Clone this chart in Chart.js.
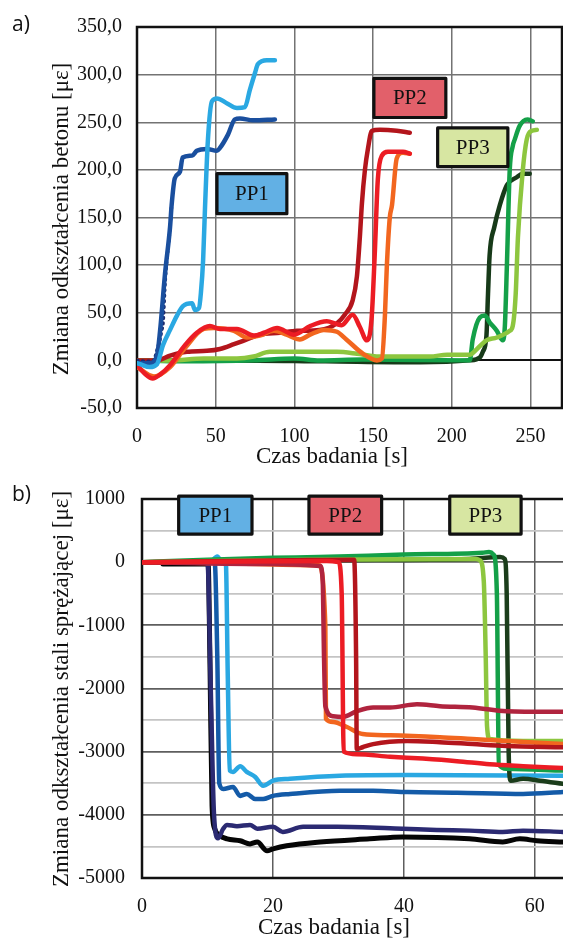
<!DOCTYPE html>
<html><head><meta charset="utf-8">
<script src="https://cdn.jsdelivr.net/npm/chart.js@4.4.0/dist/chart.umd.min.js"></script>
<style>
html,body{margin:0;padding:0;background:#fff;}
#wrap{position:relative;width:563px;height:941px;overflow:hidden;background:#fff;}
canvas{position:absolute;left:0;}
#ca{top:0;width:563px;height:470px;}
#cb{top:470px;width:563px;height:471px;}
</style></head><body>
<div id="wrap"><canvas id="ca" width="563" height="470"></canvas><canvas id="cb" width="563" height="471"></canvas></div>
<script>
// ===== Chart a) : concrete strain =====
const xTicksA = [0, 50, 100, 150, 200, 250];
const xLabelsA = ['0', '50', '100', '150', '200', '250'];
const yTicksA = [-50, 0, 50, 100, 150, 200, 250, 300, 350];
const yLabelsA = ['-50,0', '0,0', '50,0', '100,0', '150,0', '200,0', '250,0', '300,0', '350,0'];

const tA_pp1_dark = [0, 8, 12.7, 14.6, 17.8, 21, 22, 24, 27.3, 29, 35, 38, 44.4, 50.8, 52.7, 57.8, 62.2, 65.4, 73.7, 87.6];
const vA_pp1_dark = [-3, -3, 5, 30, 91, 140, 163, 191, 198, 213, 215, 220, 222, 220, 223, 237, 253, 254, 252, 253];
const tA_pp1_navy = [0, 6.3, 10, 13.3, 14.6, 15.9, 16.5, 18, 21, 22];
const vA_pp1_navy = [0, -1, -1, 14, 22, 33, 38, 85, 140, 163];
const tA_pp1_light = [0, 2, 8, 12.7, 16.5, 21, 25.4, 29.2, 35, 36.8, 39.4, 40.6, 42, 43.2, 45, 47.6, 50.8, 57, 63.5, 68.6, 71.7, 75, 76.8, 82.5, 87.6];
const vA_pp1_light = [-3, -4, -7, -4, 16, 32, 47, 57, 60, 53, 55, 71, 105, 160, 230, 272, 275, 270, 265, 266, 284, 302, 311, 315, 315];

const tA_pp2_dark = [0, 12.7, 21, 31.7, 44.4, 52.7, 61.6, 69.8, 78, 90.8, 101.6, 116, 127, 132, 137, 139.7, 141.6, 142.9, 144.8, 146.7, 149.2, 154.3, 165, 173.3];
const vA_pp2_dark = [0, 0, 5, 9, 10, 12, 17, 22, 27, 29, 31, 32, 39, 48, 63, 88, 130, 165, 200, 222, 241, 242, 241, 239];
const tA_pp2_red = [0, 5, 10, 14.6, 21, 30.5, 38, 46.3, 52.7, 63.5, 74.3, 80.6, 89, 99.7, 110, 120.6, 127, 130, 137, 141.6, 146, 149, 151, 153, 155.6, 159.4, 169, 173.3];
const vA_pp2_red = [-5, -14, -19, -15, -5, 16, 29, 36, 33, 33, 26, 29, 34, 27, 36, 41, 38, 37, 48, 35, 21, 43, 110, 190, 215, 219, 219, 217];
const tA_pp2_orange = [0, 10.8, 21, 30.5, 42.5, 48.9, 61.6, 69.8, 78, 87, 95, 103.5, 110, 118.7, 127, 133, 143.5, 152.4, 155.6, 157.5, 158.7, 160.6, 162, 165, 169, 173.3];
const vA_pp2_orange = [-7, -17, -7, 13, 33, 34, 31, 24, 26, 31, 27, 22, 27, 32, 30, 22, 7, 0, 2, 47, 98, 150, 163, 212, 218, 217];

const tA_pp3_green = [0, 30, 74, 100, 116, 143.5, 211.4, 213.3, 217.8, 221, 224, 228.6, 232.4, 233.7, 235, 236.8, 238.7, 240, 243, 248, 251.4];
const vA_pp3_green = [0, -1, 0, 2, 0, 1, 0, 22, 45, 47, 40, 31, 21, 36, 100, 200, 225, 232, 246, 253, 251];
const tA_pp3_light = [0, 21, 42.5, 63.5, 74, 84.4, 99.7, 127, 139.7, 148, 154, 186, 197, 211.4, 216, 222, 228.6, 236.8, 238.7, 240.6, 242, 245, 247.6, 250.8, 254];
const vA_pp3_light = [0, 0, 2, 2, 4, 9, 9, 9, 7, 5, 4, 4, 6, 6, 12, 21, 24, 31, 36, 70, 129, 198, 232, 241, 242];
const tA_pp3_dark = [0, 60, 120, 180, 211.4, 217.8, 219.7, 222, 223, 224, 227, 230.5, 235, 241, 245, 249.5];
const vA_pp3_dark = [0, 0, -1, -2, 0, 3, 9, 26, 70, 110, 140, 163, 184, 192, 196, 196];

// ===== Chart b) : prestressing steel strain =====
const xTicksB = [0, 20, 40, 60];
const xLabelsB = ['0', '20', '40', '60'];
const yTicksB = [-5000, -4500, -4000, -3500, -3000, -2500, -2000, -1500, -1000, -500, 0, 500, 1000];
const yLabelsB = ['-5000', '', '-4000', '', '-3000', '', '-2000', '', '-1000', '', '0', '', '1000'];

const tB_pp1_black = [3.2, 10.1, 10.4, 10.7, 11.1, 11.9, 13, 15, 16.5, 17.6, 19.1, 20, 22.1, 27.2, 34.8, 39.8, 50, 55.1, 57.7, 60.3, 64.3];
const vB_pp1_black = [-30, -30, -1740, -3860, -4220, -4330, -4380, -4410, -4460, -4430, -4570, -4540, -4490, -4430, -4380, -4350, -4380, -4430, -4380, -4410, -4430];
const tB_pp1_navy = [0, 10, 10.5, 11, 11.6, 12.4, 13, 14.5, 16.5, 17.6, 20, 21.5, 24.6, 29.8, 39.8, 45, 50, 55.1, 58.2, 64.3];
const vB_pp1_navy = [0, 0, -2000, -4000, -4370, -4220, -4160, -4180, -4160, -4220, -4190, -4270, -4190, -4190, -4220, -4240, -4250, -4270, -4250, -4270];
const tB_pp1_blue = [0, 11.1, 11.5, 11.8, 12.4, 13.9, 15, 16, 17.3, 18.5, 20, 22.6, 30.2, 35.3, 40.5, 48.1, 58.2, 64.3];
const vB_pp1_blue = [0, 0, -1500, -3500, -3590, -3560, -3700, -3670, -3750, -3750, -3700, -3670, -3620, -3620, -3640, -3650, -3670, -3640];
const tB_pp1_light = [0, 10.4, 11.5, 12.2, 12.8, 13.1, 13.4, 13.9, 15, 16, 17.3, 18.5, 20, 22.6, 30.2, 40.5, 64.3];
const vB_pp1_light = [0, 0, 90, 0, 0, -1800, -3300, -3320, -3230, -3320, -3400, -3540, -3460, -3430, -3380, -3370, -3380];

const tB_pp2_crimson = [0, 20, 27.2, 27.6, 27.8, 28, 29.2, 30.7, 32.8, 35.3, 37.9, 42, 45.5, 50.5, 55.7, 64.3];
const vB_pp2_crimson = [0, -30, -60, -300, -1500, -2280, -2440, -2450, -2360, -2300, -2300, -2250, -2280, -2300, -2360, -2370];
const tB_pp2_orange = [0, 27, 28, 28.1, 29.2, 31.3, 33.7, 37.9, 45.5, 50.5, 55.7, 64.3];
const vB_pp2_orange = [0, -50, -1000, -2480, -2530, -2610, -2720, -2740, -2770, -2800, -2830, -2880];
const tB_pp2_red = [0, 28.2, 30, 30.5, 30.8, 32.8, 37.9, 42.9, 48.1, 53.1, 58.2, 64.3];
const vB_pp2_red = [0, 20, 0, -500, -3000, -3040, -3080, -3110, -3150, -3200, -3230, -3260];
const tB_pp2_dark = [0, 22.6, 32.4, 32.7, 32.8, 33.7, 35.3, 40.5, 45.5, 50.5, 55.7, 64.3];
const vB_pp2_dark = [0, 30, 40, -1500, -2960, -2930, -2880, -2830, -2850, -2880, -2910, -2930];

const tB_pp3_green = [0, 10, 20, 27, 40, 52, 53, 53.7, 54.2, 54.5, 55.7, 64.3];
const vB_pp3_green = [0, 40, 70, 80, 120, 150, 160, 120, -500, -3200, -3270, -3300];
const tB_pp3_light = [0, 25, 51, 51.6, 52.2, 52.5, 52.7, 53.1, 58.2, 64.3];
const vB_pp3_light = [0, 40, 50, 30, -300, -1500, -2600, -2800, -2830, -2830];
const tB_pp3_dark = [0, 30, 50, 54.7, 55.4, 55.7, 56, 56.3, 58.2, 60.8, 64.3];
const vB_pp3_dark = [0, 30, 50, 80, 50, -500, -3000, -3460, -3430, -3460, -3510];

// ===== helpers =====
function pts(t, v) { return t.map((x, i) => ({ x: x, y: v[i] })); }
function ds(t, v, color, width, extra) {
  return Object.assign({
    data: pts(t, v), borderColor: color, backgroundColor: color, borderWidth: width,
    pointRadius: 0, pointHoverRadius: 0, fill: false, cubicInterpolationMode: 'monotone',
    borderJoinStyle: 'round', borderCapStyle: 'round'
  }, extra || {});
}

const SERIF = '"Liberation Serif", "Times New Roman", serif';
Chart.defaults.font.family = SERIF;

const framePlugin = {
  id: 'frame',
  beforeDatasetsDraw(chart, args, o) {
    const ctx = chart.ctx, a = chart.chartArea;
    ctx.save();
    ctx.strokeStyle = '#111'; ctx.lineWidth = 2.5; ctx.lineCap = 'square';
    ctx.beginPath();
    ctx.moveTo(a.left, a.bottom); ctx.lineTo(a.left, a.top); ctx.lineTo(a.right, a.top);
    if (o.right) ctx.lineTo(a.right, a.bottom);
    ctx.moveTo(a.left, a.bottom); ctx.lineTo(a.right, a.bottom);
    ctx.stroke();
    ctx.restore();
  },
  afterDraw(chart, args, o) {
    const ctx = chart.ctx, sx = chart.scales.x, sy = chart.scales.y;
    ctx.save();
    (o.boxes || []).forEach(b => {
      const x0 = sx.getPixelForValue(b.x0), x1 = sx.getPixelForValue(b.x1);
      const y0 = sy.getPixelForValue(b.y0), y1 = sy.getPixelForValue(b.y1);
      ctx.fillStyle = b.fill;
      ctx.fillRect(x0, y0, x1 - x0, y1 - y0);
      ctx.strokeStyle = '#111'; ctx.lineWidth = 3.2; ctx.lineJoin = 'round';
      ctx.strokeRect(x0, y0, x1 - x0, y1 - y0);
      ctx.fillStyle = '#111';
      ctx.font = '21px ' + SERIF;
      ctx.textAlign = 'center'; ctx.textBaseline = 'middle';
      ctx.fillText(b.text, (x0 + x1) / 2, (y0 + y1) / 2 + 1);
    });
    ctx.fillStyle = '#111';
    ctx.font = '23px ' + SERIF;
    ctx.textAlign = 'center'; ctx.textBaseline = 'middle';
    ctx.fillText(o.xTitle, o.xTitlePos[0], o.xTitlePos[1]);
    ctx.save();
    ctx.translate(o.yTitlePos[0], o.yTitlePos[1]);
    ctx.rotate(-Math.PI / 2);
    ctx.fillText(o.yTitle, 0, 0);
    ctx.restore();
    ctx.font = '21px "Open Sans", "DejaVu Sans", sans-serif';
    ctx.textAlign = 'left';
    ctx.fillText(o.letter, 12, 25);
    ctx.restore();
  }
};

function tickFont() { return { family: SERIF, size: 20 }; }

// ===== chart a =====
new Chart(document.getElementById('ca'), {
  type: 'line',
  data: {
    datasets: [
      ds(tA_pp1_light, vA_pp1_light, '#2aa8e2', 4.5),
      ds(tA_pp1_dark, vA_pp1_dark, '#1a4f9e', 4.5),
      ds(tA_pp1_navy, vA_pp1_navy, '#1d2b6e', 3.5, { borderDash: [1, 4.5] }),
      ds(tA_pp2_red, vA_pp2_red, '#ec1c24', 4.5),
      ds(tA_pp2_orange, vA_pp2_orange, '#f2661f', 4.5),
      ds(tA_pp2_dark, vA_pp2_dark, '#b3151c', 4.5),
      ds(tA_pp3_light, vA_pp3_light, '#8dc63f', 4.5),
      ds(tA_pp3_green, vA_pp3_green, '#14a048', 4.5),
      ds(tA_pp3_dark, vA_pp3_dark, '#173a19', 4.5)
    ]
  },
  options: {
    responsive: false, animation: false, events: [],
    layout: { autoPadding: false, padding: { top: 19, right: 1, left: 0, bottom: 0 } },
    plugins: {
      legend: { display: false }, tooltip: { enabled: false },
      frame: {
        right: true, letter: 'a)',
        xTitle: 'Czas badania [s]', xTitlePos: [332, 457],
        yTitle: 'Zmiana odkształcenia betonu [με]', yTitlePos: [62, 219],
        boxes: [
          { text: 'PP1', fill: '#62b0e4', x0: 50.8, x1: 95.2, y0: 196, y1: 154 },
          { text: 'PP2', fill: '#e2606a', x0: 150.5, x1: 196.2, y0: 296, y1: 255 },
          { text: 'PP3', fill: '#d7e6a2', x0: 191, x1: 235.6, y0: 244, y1: 203.5 }
        ]
      }
    },
    scales: {
      x: {
        type: 'linear', min: 0, max: 270,
        afterBuildTicks: s => { s.ticks = xTicksA.map(v => ({ value: v })); },
        afterFit: s => { s.height = 62; },
        grid: { color: '#737373', lineWidth: 1.5, drawTicks: false },
        border: { display: false },
        ticks: { callback: (v, i) => xLabelsA[i], font: tickFont(), color: '#111', padding: 17, maxRotation: 0 }
      },
      y: {
        type: 'linear', min: -50, max: 350,
        afterBuildTicks: s => { s.ticks = yTicksA.map(v => ({ value: v })); },
        afterFit: s => { s.width = 137; },
        grid: { color: c => (c.tick && c.tick.value === 0) ? '#111' : '#737373', lineWidth: c => (c.tick && c.tick.value === 0) ? 2 : 1.5, drawTicks: false },
        border: { display: false },
        ticks: { callback: (v, i) => yLabelsA[i], font: tickFont(), color: '#111', padding: 15 }
      }
    }
  },
  plugins: [framePlugin]
});

// ===== chart b =====
new Chart(document.getElementById('cb'), {
  type: 'line',
  data: {
    datasets: [
      ds(tB_pp2_red, vB_pp2_red, '#ec1c24', 4.5),
      ds(tB_pp2_dark, vB_pp2_dark, '#b3151c', 4.5),
      ds(tB_pp2_crimson, vB_pp2_crimson, '#b0243e', 4.5),
      ds(tB_pp2_orange, vB_pp2_orange, '#f2661f', 4.5),
      ds(tB_pp3_light, vB_pp3_light, '#8dc63f', 4.5),
      ds(tB_pp3_green, vB_pp3_green, '#14a048', 4.5),
      ds(tB_pp3_dark, vB_pp3_dark, '#1b3d1b', 4.5),
      ds(tB_pp1_light, vB_pp1_light, '#2aa8e2', 4.5),
      ds(tB_pp1_blue, vB_pp1_blue, '#145ba8', 4.5),
      ds(tB_pp1_navy, vB_pp1_navy, '#2b2a72', 4.5),
      ds(tB_pp1_black, vB_pp1_black, '#050505', 5)
    ]
  },
  options: {
    responsive: false, animation: false, events: [],
    layout: { autoPadding: false, padding: { top: 29, right: 0, left: 0, bottom: 0 } },
    plugins: {
      legend: { display: false }, tooltip: { enabled: false },
      frame: {
        right: false, letter: 'b)',
        xTitle: 'Czas badania [s]', xTitlePos: [334, 458],
        yTitle: 'Zmiana odkształcenia stali sprężającej [με]', yTitlePos: [62, 219],
        boxes: [
          { text: 'PP1', fill: '#62b0e4', x0: 5.6, x1: 16.8, y0: 1045, y1: 445 },
          { text: 'PP2', fill: '#e2606a', x0: 25.5, x1: 36.6, y0: 1045, y1: 445 },
          { text: 'PP3', fill: '#d7e6a2', x0: 47, x1: 57.9, y0: 1045, y1: 445 }
        ]
      }
    },
    scales: {
      x: {
        type: 'linear', min: 0, max: 64.3,
        afterBuildTicks: s => { s.ticks = xTicksB.map(v => ({ value: v })); },
        afterFit: s => { s.height = 63; },
        grid: { color: '#5e5e5e', lineWidth: 1.5, drawTicks: false },
        border: { display: false },
        ticks: { callback: (v, i) => xLabelsB[i], font: tickFont(), color: '#111', padding: 17, maxRotation: 0 }
      },
      y: {
        type: 'linear', min: -5000, max: 1000,
        afterBuildTicks: s => { s.ticks = yTicksB.map(v => ({ value: v })); },
        afterFit: s => { s.width = 142; },
        grid: { color: c => (c.tick && c.tick.value % 1000 === 0) ? '#5e5e5e' : '#c4c4c4', lineWidth: 1.8, drawTicks: false },
        border: { display: false },
        ticks: { callback: (v, i) => yLabelsB[i], font: tickFont(), color: '#111', padding: 17, autoSkip: false }
      }
    }
  },
  plugins: [framePlugin]
});
</script>
</body></html>
